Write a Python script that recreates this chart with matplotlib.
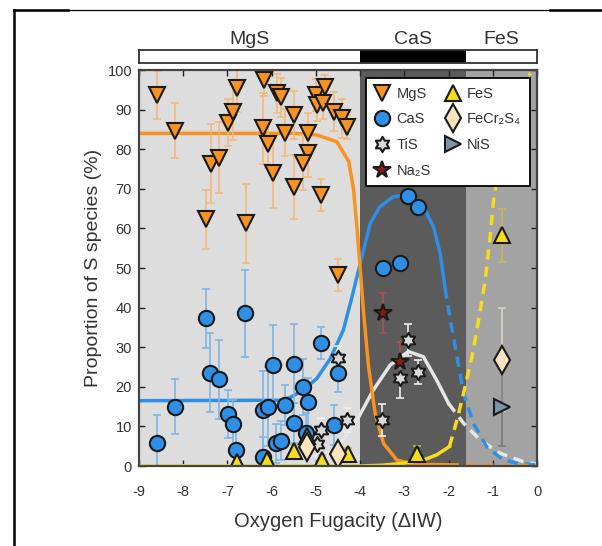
import matplotlib
matplotlib.use("Agg")
import matplotlib.pyplot as plt
import numpy as np
from matplotlib.lines import Line2D
from matplotlib.path import Path

plt.rcParams['font.family'] = ['Liberation Sans', 'DejaVu Sans']
plt.rcParams['axes.unicode_minus'] = False

# ---- data ----
regions = [(-9.0, -4.0), (-4.0, -1.6), (-1.6, 0.0)]
region_names = ["MgS", "CaS", "FeS"]

mgs_x = [-8.59, -8.19, -7.38, -7.18, -7.48, -6.98, -6.88, -6.79, -6.59, -6.17,
         -6.20, -6.08, -5.98, -5.88, -5.79, -5.69, -5.49, -5.49, -5.18, -5.18,
         -5.30, -5.00, -4.79, -4.98, -4.84, -4.59, -4.41, -4.29, -4.89, -4.49]
mgs_y = [93.7, 84.7, 76.3, 77.9, 62.3, 86.7, 89.3, 95.4, 61.3, 97.5,
         85.3, 81.3, 74.1, 94.1, 93.1, 84.2, 88.6, 70.5, 84.2, 79.1,
         76.6, 93.7, 95.8, 91.2, 91.6, 89.5, 87.8, 85.7, 68.4, 48.2]
mgs_err = [6, 7, 10, 9, 7.5, 6, 7, 6, 10, 4,
           9, 6, 9, 5, 5, 6, 6, 8, 5, 6,
           7, 4, 3, 4, 4, 5, 5, 3, 4, 4]

cas_x = [-8.59, -8.19, -7.48, -7.39, -7.19, -6.60, -6.99, -6.88, -6.81, -6.20,
         -6.08, -5.98, -6.20, -5.91, -5.79, -5.70, -5.49, -5.49, -5.30, -5.18,
         -4.89, -4.49, -4.59, -5.22, -3.49, -3.10, -2.91, -2.68]
cas_y = [5.9, 15.0, 37.3, 23.6, 21.9, 38.6, 13.1, 10.6, 4.0, 14.1,
         15.0, 25.5, 2.2, 5.7, 6.4, 15.4, 10.9, 25.8, 19.9, 16.2,
         31.1, 23.6, 10.4, 8.4, 49.9, 51.2, 68.2, 65.5]
cas_err = [7, 7, 7.5, 10, 10, 11, 6, 6, 5, 10,
           10, 10, 5, 5, 5, 5, 5, 10, 7, 6,
           4, 5, 5, 5, 0, 0, 0, 0]

tis_x = [-4.49, -4.30, -4.89, -4.98, -3.51, -2.91, -2.70, -3.10]
tis_y = [27.3, 11.6, 9.1, 5.5, 11.6, 31.8, 23.8, 22.1]
tis_err = [3, 3, 3, 3, 4, 4, 3, 5]

na2s_x = [-3.49, -3.10]
na2s_y = [38.6, 26.3]
na2s_err = [5, 5]

fes_x = [-6.79, -6.10, -5.49, -5.19, -4.87, -4.27, -2.72, -0.80]
fes_y = [1.1, 1.5, 3.8, 7.6, 1.4, 3.1, 3.0, 58.3]
fes_err = [1.5, 1.5, 1.5, 1.5, 1.5, 1.5, 2, 6.7]

fecr_x = [-5.21, -4.49, -0.80]
fecr_y = [4.9, 3.1, 26.8]
fecr_err = [2, 2, 13]

nis_x = [-0.80]
nis_y = [15.0]
nis_err = [10]

# fitted trend curves (solid part, dashed extrapolation)
mgs_fit_x = [-9.0, -5.5, -4.98, -4.53, -4.26, -4.15, -4.07, -4.0, -3.92, -3.81,
             -3.66, -3.47, -3.17, -2.87, -2.5, -2.0]
mgs_fit_y = [84, 84, 83.6, 81.9, 77, 70, 60, 50, 38.6, 25.1,
             13.3, 5.7, 1.5, 0.7, 0.4, 0.3]
mgs_dash_x = [-2.0, -1.0, 0.0]
mgs_dash_y = [0.3, 0.2, 0.1]

cas_fit_x = [-9.0, -5.8, -5.58, -5.28, -4.98, -4.68, -4.38, -4.2, -4.0, -3.77,
             -3.55, -3.25, -2.98, -2.75, -2.57, -2.34, -2.19, -2.08]
cas_fit_y = [16.5, 16.6, 17.3, 19.2, 22.1, 27.0, 34.3, 42, 51, 61.3,
             65.5, 68.0, 68.4, 67.5, 65.5, 60.4, 53.7, 44.9]
cas_dash_x = [-2.08, -1.96, -1.81, -1.66, -1.44, -1.14, -0.76, -0.4, 0.0]
cas_dash_y = [44.9, 36.9, 27.6, 18.4, 10.8, 4.9, 1.5, 0.6, 0.3]

tis_fit_x = [-9.0, -5.13, -4.90, -4.45, -4.07, -3.70, -3.32, -2.91, -2.57, -2.27, -2.0]
tis_fit_y = [0, 0, 0.7, 5.7, 11.6, 19.2, 25.5, 28.9, 27.6, 21.7, 15.8]
tis_dash_x = [-2.0, -1.66, -1.29, -0.83, -0.31, 0.0]
tis_dash_y = [15.8, 10.8, 6.6, 3.2, 1.1, 0.5]

fes_fit_x = [-9.0, -4.0, -3.5, -3.0, -2.57, -2.27, -1.98]
fes_fit_y = [0, 0, 0.2, 0.7, 1.5, 2.8, 4.9]
fes_dash_x = [-1.98, -1.81, -1.66, -1.47, -1.32, -1.17, -1.06, -0.98, -0.91,
              -0.68, -0.45, -0.15]
fes_dash_y = [4.9, 11.6, 18.4, 27.6, 36.9, 47.0, 57.9, 67.2, 72.2,
              85.7, 94.1, 99.2]

# ---- styles ----
c_orange = '#f7931e'
c_blue = '#2f8fe6'
c_yellow = '#f6dc1a'
c_white = '#e6e6e6'
region_colors = ['#dddddd', '#5b5b5b', '#a3a3a3']
text_color = '#333333'


def hexagram():
    ang = np.pi / 2 + np.arange(12) * np.pi / 6
    rad = np.where(np.arange(12) % 2 == 0, 1.0, 0.577)
    verts = np.column_stack([rad * np.cos(ang), rad * np.sin(ang)])
    verts = np.vstack([verts, verts[:1]])
    return Path(verts, closed=True)


fig = plt.figure(figsize=(6.02, 5.46), dpi=100)
ax = fig.add_axes([139 / 602, 80 / 546, 398 / 602, 396 / 546])
ax_bar = fig.add_axes([139 / 602, 483 / 546, 398 / 602, 13 / 546])

for (a, b), col in zip(regions, region_colors):
    ax.axvspan(a, b, color=col, zorder=0, lw=0)

# curves
ax.plot(tis_fit_x, tis_fit_y, color=c_white, lw=2.5, zorder=2)
ax.plot(tis_dash_x, tis_dash_y, color=c_white, lw=2.5, ls=(0, (3, 2)), zorder=2)
ax.plot(cas_fit_x, cas_fit_y, color=c_blue, lw=2.5, zorder=2)
ax.plot(cas_dash_x, cas_dash_y, color=c_blue, lw=2.5, ls=(0, (3, 2)), zorder=2)
ax.plot(mgs_fit_x, mgs_fit_y, color=c_orange, lw=2.5, zorder=2)
ax.plot(mgs_dash_x, mgs_dash_y, color=c_orange, lw=2.5, ls=(0, (3, 2)), zorder=2)
ax.plot(fes_fit_x, fes_fit_y, color=c_yellow, lw=2.5, zorder=2.1)
ax.plot(fes_dash_x, fes_dash_y, color=c_yellow, lw=2.5, ls=(0, (3, 2)), zorder=2.1)

series = [
    (mgs_x, mgs_y, mgs_err, 'v', c_orange, '#f5b979', 12, "MgS"),
    (cas_x, cas_y, cas_err, 'o', c_blue, '#7fb5e8', 11, "CaS"),
    (tis_x, tis_y, tis_err, hexagram(), '#d9d9d9', '#eeeeee', 11, "TiS"),
    (na2s_x, na2s_y, na2s_err, '*', '#8b1a1a', '#b05050', 13, "Na\u2082S"),
    (fes_x, fes_y, fes_err, '^', c_yellow, '#c9b458', 12, "FeS"),
    (fecr_x, fecr_y, fecr_err, 'd', '#fde3bd', '#d8d2c8', 14, "FeCr\u2082S\u2084"),
    (nis_x, nis_y, nis_err, '>', '#7f93a6', '#7a7a7a', 12, "NiS"),
]

handles = []
for x, y, e, mk, fc, ec, ms, lab in series:
    ax.errorbar(x, y, yerr=e, fmt='none', ecolor=ec, elinewidth=1.2,
                capsize=3, capthick=1.2, zorder=3)
    h, = ax.plot(x, y, ls='none', marker=mk, ms=ms, mfc=fc, mec='#1a1a1a',
                 mew=1.5, zorder=4, label=lab)
    handles.append(h)

ax.set_xlim(-9, 0)
ax.set_ylim(0, 100)
ax.set_xticks(range(-9, 1))
ax.set_yticks(range(0, 101, 10))
ax.tick_params(direction='in', top=True, right=True, length=4, width=1,
               labelsize=10.5, labelcolor=text_color, color='#222222')
ax.tick_params(axis='x', pad=14)
ax.tick_params(axis='y', pad=5)
for s in ax.spines.values():
    s.set_color('#444444')
    s.set_linewidth(1.6)
    s.set_zorder(5)

ax.set_xlabel("Oxygen Fugacity (\u0394IW)", fontsize=14.5, color=text_color, labelpad=9)
ax.set_ylabel("Proportion of S species (%)", fontsize=14, color=text_color, labelpad=4)

leg = ax.legend(handles=handles, ncol=2, loc='upper right',
                bbox_to_anchor=(0.982, 0.98), borderaxespad=0, fontsize=10.5,
                fancybox=False, framealpha=1, edgecolor='black',
                handlelength=1.0, handletextpad=0.5, labelspacing=0.8,
                columnspacing=1.0, borderpad=0.6)
leg.get_frame().set_linewidth(1.3)
leg.set_zorder(10)
for t in leg.get_texts():
    t.set_color(text_color)

# top regime bar
ax_bar.set_xlim(-9, 0)
ax_bar.set_ylim(0, 1)
ax_bar.axvspan(regions[1][0], regions[1][1], color='black', lw=0)
ax_bar.set_xticks([])
ax_bar.set_yticks([])
for s in ax_bar.spines.values():
    s.set_color('#333333')
    s.set_linewidth(1.3)
for (a, b), name in zip(regions, region_names):
    ax_bar.text((a + b) / 2, 1.45, name, ha='center', va='baseline',
                fontsize=14, color=text_color)

# outer frame lines
y_top = 1 - 10 / 546
fig.add_artist(Line2D([14 / 602, 14 / 602], [0, y_top], transform=fig.transFigure,
                      color='black', lw=1.8))
fig.add_artist(Line2D([14 / 602, 1], [y_top, y_top], transform=fig.transFigure,
                      color='black', lw=0.9))
fig.add_artist(Line2D([14 / 602, 68 / 602], [y_top, y_top], transform=fig.transFigure,
                      color='black', lw=1.8))
fig.add_artist(Line2D([550 / 602, 1], [y_top, y_top], transform=fig.transFigure,
                      color='black', lw=1.8))

fig.savefig("out.png", dpi=100)
